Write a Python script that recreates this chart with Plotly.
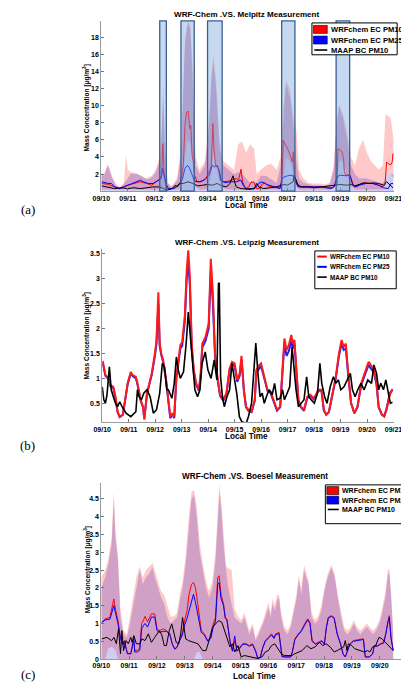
import plotly.graph_objects as go

# The page body keeps its default 8px margin, so the figure is laid out
# 8px smaller and all reference pixel positions are shifted by OFF.
OFF = 8
W, H = 409 - OFF, 684 - OFF

DAY_LABELS = ["09/10", "09/11", "09/12", "09/13", "09/14", "09/15",
              "09/16", "09/17", "09/18", "09/19", "09/20", "09/21"]
DAY_TICKS = list(range(12))

# ---------------- Panel (a): Melpitz ----------------
A_EVENTS = [(2.2, 2.45), (3.0, 3.5), (4.0, 4.55), (6.79, 7.29), (8.84, 9.35)]

# (time [days since 09/10 00:00], pink upper, pink lower, blue upper)
A_BAND = [
    (0, 2.2, 0.2, 2.0), (0.1, 2.0, 0.2, 1.8), (0.25, 3.2, 0.2, 3.0), (0.4, 1.8, 0.2, 1.6),
    (0.55, 0.8, 0.2, 0.7), (0.7, 0.5, 0.2, 0.4), (0.85, 1.0, 0.2, 0.8), (0.93, 4.2, 0.2, 1.2),
    (1.0, 2.5, 0.2, 1.6), (1.1, 2.2, 0.2, 2.0), (1.2, 2.0, 0.2, 2.2), (1.35, 2.0, 0.2, 2.0),
    (1.5, 1.8, 0.2, 1.8), (1.7, 1.5, 0.2, 1.4), (1.9, 1.8, 0.2, 1.6), (2.05, 2.5, 0.2, 2.2),
    (2.2, 4.0, 0.2, 3.5), (2.28, 8.0, 0.3, 7.0), (2.33, 12.5, 0.5, 11.0), (2.4, 6.0, 0.3, 5.0),
    (2.5, 1.0, 0.2, 0.9), (2.65, 0.6, 0.2, 0.5), (2.85, 1.5, 0.2, 1.2), (3.0, 5.0, 0.3, 4.0),
    (3.08, 12.0, 1.0, 10.0), (3.15, 18.0, 4.0, 17.0), (3.25, 19.9, 6.0, 19.5), (3.35, 19.5, 5.5, 19.0),
    (3.45, 14.0, 3.0, 12.0), (3.55, 4.0, 0.5, 3.0), (3.7, 2.5, 0.2, 2.0), (3.9, 3.5, 0.2, 3.0),
    (4.05, 8.0, 0.5, 7.0), (4.15, 14.0, 2.0, 13.0), (4.22, 16.0, 4.5, 15.0), (4.32, 13.0, 3.0, 12.0),
    (4.45, 6.0, 1.0, 5.0), (4.6, 3.5, 0.3, 3.0), (4.8, 3.0, 0.2, 2.5), (5.0, 2.5, 0.2, 2.0),
    (5.15, 5.5, 0.2, 2.2), (5.3, 5.8, 0.2, 2.0), (5.45, 4.5, 0.2, 1.5), (5.6, 5.5, 0.2, 1.0),
    (5.75, 5.0, 0.2, 1.2), (5.85, 2.0, 0.2, 1.0), (6.0, 2.5, 0.2, 1.8), (6.2, 3.0, 0.2, 1.8),
    (6.4, 3.2, 0.2, 1.4), (6.6, 2.5, 0.2, 1.0), (6.75, 4.0, 0.2, 3.0), (6.85, 10.0, 1.0, 8.0),
    (6.95, 13.0, 4.0, 12.5), (7.1, 12.0, 3.5, 11.0), (7.25, 8.5, 2.0, 7.0), (7.35, 7.0, 0.5, 3.5),
    (7.45, 2.5, 0.2, 1.5), (7.6, 1.5, 0.2, 1.0), (7.8, 1.0, 0.2, 0.8), (8.0, 0.9, 0.2, 0.7),
    (8.2, 0.9, 0.2, 0.7), (8.4, 0.8, 0.2, 0.6), (8.6, 1.0, 0.2, 0.8), (8.75, 3.0, 0.3, 2.5),
    (8.85, 8.0, 1.0, 7.5), (8.95, 10.2, 3.5, 10.0), (9.1, 9.0, 3.5, 8.5), (9.25, 7.0, 2.0, 6.0),
    (9.4, 4.0, 0.5, 3.0), (9.55, 3.0, 0.2, 2.0), (9.7, 5.0, 0.2, 1.5), (9.85, 6.0, 0.2, 1.5),
    (10.0, 4.5, 0.2, 1.5), (10.15, 3.5, 0.2, 1.3), (10.3, 3.0, 0.2, 1.2), (10.45, 2.5, 0.2, 1.0),
    (10.6, 3.0, 0.2, 1.0), (10.7, 9.0, 1.5, 1.5), (10.8, 8.8, 2.0, 2.0), (10.9, 8.5, 2.0, 2.0),
    (11.0, 6.0, 1.5, 2.0),
]

A_RED = [
    (0.02, 0.9), (0.26, 0.8), (0.5, 0.5), (0.69, 0.3), (0.99, 0.7), (1.23, 0.9), (1.47, 1.1),
    (1.71, 0.9), (1.89, 0.7), (2.07, 1.1), (2.19, 1.4), (2.27, 1.87), (2.32, 5.56), (2.36, 2.26),
    (2.41, 1.1), (2.45, 0.3), (2.61, 0.25), (2.79, 0.5), (2.97, 0.9), (3.09, 3.0), (3.15, 7.7),
    (3.21, 9.26), (3.27, 9.34), (3.33, 7.3), (3.37, 7.7), (3.42, 4.2), (3.47, 3.4), (3.51, 1.87),
    (3.61, 1.1), (3.75, 1.1), (3.94, 1.5), (4.06, 2.26), (4.14, 3.0), (4.2, 7.9), (4.24, 5.0),
    (4.3, 3.0), (4.36, 2.84), (4.42, 2.65), (4.48, 1.28), (4.6, 1.1), (4.78, 1.17), (4.93, 1.28),
    (5.08, 1.48), (5.17, 1.28), (5.26, 2.57), (5.32, 1.1), (5.44, 0.3), (5.55, 0.5), (5.65, 1.1),
    (5.75, 1.0), (5.85, 0.3), (5.95, 0.3), (6.05, 0.8), (6.15, 1.0), (6.3, 0.6), (6.5, 0.5),
    (6.7, 0.4), (6.77, 0.9), (6.81, 2.26), (6.85, 5.95), (6.95, 5.4), (7.01, 4.98), (7.07, 4.6),
    (7.13, 4.0), (7.19, 3.4), (7.23, 4.6), (7.26, 1.87), (7.31, 1.5), (7.37, 0.9), (7.49, 0.5),
    (7.8, 0.5), (8.1, 0.45), (8.4, 0.5), (8.7, 0.4), (8.88, 0.9), (8.91, 4.98), (8.99, 4.8),
    (9.06, 4.6), (9.12, 3.8), (9.15, 2.26), (9.21, 1.87), (9.3, 1.95), (9.36, 1.87), (9.42, 1.28),
    (9.5, 0.62), (9.6, 0.5), (9.78, 0.9), (9.9, 0.97), (10.08, 0.9), (10.26, 0.9), (10.44, 0.7),
    (10.56, 0.5), (10.68, 0.7), (10.74, 3.4), (10.8, 3.2), (10.9, 3.1), (10.95, 3.4), (10.98, 4.4),
]

A_BLUE = [
    (0.02, 1.1), (0.26, 0.9), (0.38, 0.9), (0.5, 0.5), (0.69, 0.3), (0.93, 0.62), (1.17, 0.9),
    (1.35, 1.1), (1.47, 1.28), (1.59, 1.1), (1.77, 0.9), (1.95, 0.9), (2.13, 1.28), (2.25, 1.48),
    (2.31, 2.65), (2.36, 1.87), (2.43, 0.9), (2.53, 0.3), (2.73, 0.3), (2.94, 0.78), (3.06, 1.48),
    (3.15, 2.65), (3.25, 3.03), (3.33, 2.65), (3.42, 1.87), (3.51, 1.17), (3.69, 1.1), (3.87, 1.28),
    (4.06, 1.87), (4.18, 3.03), (4.26, 2.84), (4.36, 3.03), (4.45, 2.26), (4.51, 1.28), (4.66, 1.0),
    (4.84, 1.1), (5.08, 1.1), (5.26, 1.28), (5.34, 0.7), (5.44, 0.25), (5.6, 0.2), (5.8, 0.4),
    (5.93, 0.9), (6.05, 1.1), (6.23, 0.78), (6.41, 0.62), (6.59, 0.5), (6.73, 0.3), (6.81, 1.48),
    (6.89, 1.67), (7.01, 1.8), (7.13, 1.87), (7.25, 1.75), (7.31, 1.1), (7.41, 0.5), (7.79, 0.5),
    (8.27, 0.5), (8.64, 0.3), (8.76, 0.5), (8.88, 1.67), (8.99, 1.87), (9.24, 1.8), (9.36, 1.87),
    (9.45, 0.9), (9.54, 0.5), (9.72, 0.7), (9.96, 0.9), (10.2, 0.9), (10.44, 0.7), (10.62, 0.4),
    (10.8, 0.3), (10.9, 0.9), (10.98, 0.9),
]

A_BLACK = [
    (0.02, 0.62), (0.26, 0.5), (0.5, 0.3), (0.75, 0.4), (0.99, 0.3), (1.23, 0.4), (1.47, 0.3),
    (1.71, 0.4), (1.95, 0.5), (2.19, 0.5), (2.37, 0.3), (2.49, 0.12), (2.67, 0.3), (2.79, 0.7),
    (2.85, 0.5), (2.94, 0.9), (3.09, 0.9), (3.27, 1.1), (3.45, 0.9), (3.63, 0.62), (3.81, 0.7),
    (3.99, 0.78), (4.18, 0.7), (4.36, 0.9), (4.54, 0.62), (4.72, 0.5), (4.84, 0.9), (4.96, 1.8),
    (5.02, 1.1), (5.08, 0.5), (5.26, 0.3), (5.44, 0.25), (5.6, 0.3), (5.75, 0.25), (5.85, 0.9),
    (5.93, 0.5), (6.11, 0.3), (6.35, 0.4), (6.59, 0.5), (6.77, 0.7), (6.89, 0.78), (7.01, 0.7),
    (7.13, 0.9), (7.22, 1.1), (7.26, 1.87), (7.31, 1.5), (7.41, 0.7), (7.55, 0.5), (7.79, 0.5),
    (8.03, 0.4), (8.27, 0.5), (8.52, 0.62), (8.76, 0.7), (8.99, 0.78), (9.24, 0.7), (9.42, 0.78),
    (9.54, 0.62), (9.72, 0.78), (9.9, 0.97), (10.08, 0.9), (10.26, 0.97), (10.44, 0.9),
    (10.62, 0.7), (10.74, 1.1), (10.86, 0.7), (10.98, 0.4),
]

# ---------------- Panel (b): Leipzig ----------------
# (time, PM10, PM25)
B_MODEL = [
    (0.02, 1.35, 1.3), (0.12, 1.07, 1.05), (0.24, 1.0, 0.98), (0.3, 0.87, 0.85), (0.42, 0.83, 0.8),
    (0.5, 0.63, 0.6), (0.58, 0.33, 0.32), (0.66, 0.23, 0.22), (0.78, 0.27, 0.27), (0.9, 0.73, 0.72),
    (0.96, 0.9, 0.88), (1.08, 1.13, 1.1), (1.14, 1.07, 1.05), (1.27, 1.03, 1.0), (1.33, 0.9, 0.88),
    (1.45, 0.57, 0.55), (1.54, 0.43, 0.42), (1.59, 0.17, 0.2), (1.69, 0.7, 0.68), (1.78, 0.9, 0.88),
    (1.87, 1.1, 1.07), (1.99, 1.5, 1.45), (2.05, 1.77, 1.7), (2.12, 2.73, 2.5), (2.17, 1.7, 1.65),
    (2.23, 1.5, 1.47), (2.3, 1.37, 1.33), (2.4, 1.03, 1.0), (2.5, 0.57, 0.55), (2.57, 0.23, 0.2),
    (2.65, 0.3, 0.28), (2.72, 0.23, 0.2), (2.8, 1.03, 1.0), (2.88, 1.4, 1.37), (2.95, 1.67, 1.6),
    (3.02, 1.73, 1.65), (3.12, 2.27, 2.15), (3.19, 3.17, 3.0), (3.25, 3.57, 3.35), (3.31, 3.03, 2.85),
    (3.38, 1.7, 1.6), (3.46, 1.17, 1.1), (3.55, 0.9, 0.87), (3.65, 0.77, 0.75), (3.72, 1.1, 1.07),
    (3.78, 1.7, 1.62), (3.9, 1.83, 1.75), (4.02, 2.1, 2.0), (4.1, 3.4, 3.15), (4.18, 2.7, 2.5),
    (4.26, 1.5, 1.45), (4.35, 1.03, 1.0), (4.45, 0.67, 0.65), (4.57, 0.57, 0.55), (4.69, 0.7, 0.68),
    (4.81, 1.2, 1.17), (4.9, 1.33, 1.28), (5.0, 1.3, 1.25), (5.1, 0.97, 0.93), (5.19, 1.1, 1.05),
    (5.26, 1.45, 1.38), (5.35, 0.77, 0.75), (5.43, 0.43, 0.42), (5.52, 0.37, 0.35), (5.64, 0.33, 0.32),
    (5.76, 0.57, 0.55), (5.82, 1.17, 1.12), (5.94, 1.27, 1.2), (6.0, 1.3, 1.25), (6.12, 1.03, 1.0),
    (6.24, 0.77, 0.75), (6.36, 0.73, 0.7), (6.48, 0.53, 0.52), (6.6, 0.37, 0.35), (6.72, 0.43, 0.42),
    (6.78, 1.03, 1.0), (6.88, 1.8, 1.7), (6.96, 1.57, 1.45), (7.05, 1.67, 1.55), (7.14, 1.87, 1.75),
    (7.2, 1.7, 1.6), (7.26, 1.77, 1.7), (7.32, 1.23, 1.2), (7.41, 0.57, 0.55), (7.5, 0.43, 0.42),
    (7.62, 0.37, 0.35), (7.74, 0.63, 0.6), (7.86, 0.67, 0.65), (7.98, 0.6, 0.58), (8.07, 0.67, 0.65),
    (8.16, 0.77, 0.75), (8.28, 0.77, 0.75), (8.37, 0.37, 0.35), (8.46, 0.27, 0.27), (8.56, 0.33, 0.32),
    (8.7, 0.7, 0.68), (8.82, 1.03, 1.0), (8.94, 1.5, 1.45), (9.04, 1.77, 1.7), (9.12, 1.63, 1.57),
    (9.2, 1.7, 1.6), (9.3, 1.03, 1.0), (9.4, 0.5, 0.5), (9.52, 0.3, 0.3), (9.64, 0.43, 0.42),
    (9.78, 0.9, 0.87), (9.96, 1.17, 1.12), (10.06, 1.33, 1.27), (10.14, 1.27, 1.2), (10.26, 1.17, 1.12),
    (10.36, 0.9, 0.87), (10.44, 0.43, 0.42), (10.56, 0.27, 0.27), (10.65, 0.23, 0.24), (10.74, 0.37, 0.4),
    (10.86, 0.67, 0.7), (10.96, 0.77, 0.78),
]

B_BLACK = [
    (0.0, 0.83), (0.06, 0.57), (0.12, 0.5), (0.18, 0.67), (0.27, 1.23), (0.34, 0.77), (0.42, 0.63),
    (0.5, 0.5), (0.58, 0.43), (0.66, 0.53), (0.75, 0.43), (0.9, 0.3), (1.08, 0.23), (1.27, 0.33),
    (1.33, 0.77), (1.39, 0.63), (1.48, 0.57), (1.57, 0.7), (1.69, 0.77), (1.81, 0.63), (1.93, 0.3),
    (2.05, 0.37), (2.17, 0.7), (2.27, 1.3), (2.35, 1.23), (2.44, 0.77), (2.5, 0.77), (2.63, 0.6),
    (2.72, 0.9), (2.8, 1.43), (2.87, 1.17), (2.95, 1.0), (3.07, 1.13), (3.17, 1.7), (3.25, 2.33),
    (3.33, 1.83), (3.43, 1.23), (3.5, 0.77), (3.6, 0.63), (3.69, 0.77), (3.77, 1.3), (3.89, 1.53),
    (3.99, 1.17), (4.11, 1.0), (4.23, 1.37), (4.33, 0.97), (4.39, 2.9), (4.42, 2.92), (4.47, 1.03),
    (4.54, 0.63), (4.61, 0.43), (4.71, 0.63), (4.81, 0.77), (4.9, 1.3), (4.98, 1.03), (5.08, 0.7),
    (5.18, 0.23), (5.27, 0.13), (5.44, 0.1), (5.52, 0.23), (5.64, 0.5), (5.7, 1.03), (5.8, 1.71),
    (5.88, 1.1), (5.96, 0.63), (6.04, 0.7), (6.12, 0.5), (6.2, 0.63), (6.3, 0.77), (6.42, 0.67),
    (6.51, 0.9), (6.6, 0.57), (6.72, 0.6), (6.81, 0.77), (6.88, 0.57), (6.96, 0.67), (7.08, 0.83),
    (7.17, 1.63), (7.24, 1.17), (7.32, 0.77), (7.41, 0.43), (7.5, 0.5), (7.62, 0.57), (7.72, 1.03),
    (7.8, 0.63), (7.89, 0.57), (8.01, 0.5), (8.13, 0.7), (8.22, 1.3), (8.29, 0.9), (8.4, 0.63),
    (8.49, 0.5), (8.61, 0.83), (8.73, 1.03), (8.82, 0.9), (8.92, 0.97), (9.01, 0.77), (9.13, 0.83),
    (9.25, 0.97), (9.37, 1.1), (9.45, 0.77), (9.55, 0.63), (9.65, 0.77), (9.77, 0.9), (9.89, 0.77),
    (10.03, 0.97), (10.17, 0.9), (10.26, 1.27), (10.36, 1.1), (10.44, 0.77), (10.52, 0.9),
    (10.62, 0.77), (10.71, 0.97), (10.8, 0.7), (10.88, 0.5), (10.96, 0.52),
]

# ---------------- Panel (c): Boesel ----------------
# (time, pink upper, pink lower, blue upper)
C_BAND = [
    (0, 2.3, 0.0, 2.0), (0.14, 2.5, 0.0, 2.3), (0.25, 2.8, 0.3, 2.65), (0.37, 3.4, 0.35, 3.2),
    (0.45, 4.7, 0.3, 4.5), (0.51, 3.6, 0.25, 3.4), (0.6, 2.9, 0.0, 2.75), (0.69, 1.4, 0.0, 1.17),
    (0.8, 0.8, 0.0, 0.7), (0.92, 0.7, 0.0, 0.6), (1.03, 1.2, 0.0, 1.0), (1.15, 1.8, 0.0, 1.55),
    (1.26, 2.3, 0.0, 2.0), (1.38, 2.6, 0.0, 2.5), (1.49, 2.3, 0.0, 2.1), (1.61, 2.5, 0.0, 2.3),
    (1.72, 2.6, 0.0, 2.4), (1.84, 2.7, 0.0, 2.57), (1.92, 2.5, 0.0, 2.3), (2.03, 2.2, 0.0, 2.0),
    (2.15, 1.9, 0.0, 1.73), (2.26, 1.8, 0.0, 1.55), (2.38, 1.5, 0.0, 1.17), (2.49, 1.2, 0.0, 1.0),
    (2.61, 1.2, 0.0, 1.08), (2.72, 1.3, 0.0, 1.17), (2.84, 1.9, 0.0, 1.73), (2.92, 2.2, 0.0, 2.0),
    (3.03, 2.9, 0.0, 2.65), (3.15, 4.1, 0.0, 3.78), (3.24, 4.7, 0.0, 4.5), (3.33, 4.75, 0.0, 4.6),
    (3.43, 4.3, 0.2, 3.97), (3.53, 3.3, 0.2, 3.0), (3.64, 2.7, 0.0, 2.5), (3.76, 2.2, 0.0, 2.0),
    (3.87, 1.9, 0.0, 1.73), (3.99, 2.2, 0.0, 2.0), (4.1, 3.0, 0.0, 2.75), (4.18, 4.2, 0.0, 3.97),
    (4.24, 4.9, 0.0, 4.7), (4.31, 4.4, 0.0, 4.15), (4.39, 3.5, 0.0, 3.2), (4.48, 2.6, 0.0, 2.5),
    (4.56, 2.55, 0.0, 2.0), (4.68, 2.5, 0.0, 1.55), (4.79, 1.4, 0.0, 1.17), (4.91, 1.2, 0.0, 1.08),
    (5.02, 1.1, 0.0, 1.0), (5.14, 1.3, 0.0, 1.17), (5.31, 0.8, 0.0, 0.7), (5.43, 1.0, 0.0, 0.9),
    (5.54, 0.6, 0.0, 0.52), (5.66, 0.8, 0.0, 0.7), (5.77, 1.0, 0.0, 0.9), (5.89, 1.3, 0.0, 1.17),
    (6.0, 1.6, 0.0, 1.45), (6.08, 1.3, 0.0, 1.17), (6.15, 1.7, 0.0, 1.55), (6.23, 1.5, 0.0, 1.36),
    (6.31, 1.8, 0.0, 1.64), (6.38, 1.8, 0.0, 1.73), (6.46, 1.3, 0.0, 1.17), (6.57, 0.9, 0.0, 0.8),
    (6.69, 0.8, 0.0, 0.7), (6.8, 1.0, 0.0, 0.9), (6.92, 1.5, 0.0, 1.36), (7.0, 1.8, 0.0, 1.64),
    (7.09, 2.35, 0.0, 2.2), (7.18, 2.0, 0.0, 1.82), (7.28, 2.65, 0.0, 2.48), (7.36, 2.4, 0.0, 2.3),
    (7.44, 2.2, 0.0, 2.1), (7.55, 1.3, 0.0, 1.17), (7.67, 1.1, 0.0, 1.0), (7.78, 1.2, 0.0, 1.08),
    (7.9, 1.5, 0.0, 1.36), (8.01, 2.0, 0.0, 1.92), (8.13, 2.4, 0.0, 2.3), (8.26, 2.65, 0.0, 2.57),
    (8.38, 2.4, 0.0, 2.3), (8.49, 1.8, 0.0, 1.73), (8.61, 1.3, 0.0, 1.17), (8.72, 0.9, 0.0, 0.8),
    (8.84, 0.8, 0.0, 0.7), (8.95, 0.9, 0.0, 0.8), (9.07, 1.1, 0.0, 1.0), (9.18, 0.9, 0.0, 0.8),
    (9.3, 0.8, 0.0, 0.7), (9.41, 0.9, 0.0, 0.8), (9.53, 1.0, 0.0, 0.9), (9.64, 0.9, 0.0, 0.8),
    (9.76, 0.8, 0.0, 0.7), (9.87, 0.9, 0.0, 0.8), (9.99, 1.1, 0.0, 1.0), (10.1, 1.5, 0.0, 1.36),
    (10.2, 1.9, 0.0, 1.73), (10.29, 2.5, 0.0, 2.38), (10.34, 2.55, 0.0, 2.43), (10.4, 1.9, 0.0, 1.82),
    (10.48, 0.8, 0.0, 0.7),
]

# (time, PM10, PM25)
C_MODEL = [
    (0.02, 1.03, 1.03), (0.14, 1.13, 1.1), (0.31, 1.17, 1.12), (0.37, 1.4, 1.3), (0.45, 1.69, 1.5),
    (0.51, 1.4, 1.3), (0.6, 1.08, 1.0), (0.69, 0.61, 0.58), (0.77, 0.43, 0.4), (0.83, 0.52, 0.5),
    (0.89, 0.34, 0.3), (0.94, 0.15, 0.15), (1.06, 0.15, 0.15), (1.12, 0.4, 0.45), (1.17, 0.5, 0.6),
    (1.2, 0.25, 0.2), (1.3, 0.25, 0.2), (1.38, 0.3, 0.25), (1.45, 1.0, 0.85), (1.52, 1.1, 0.95),
    (1.57, 1.2, 1.0), (1.66, 1.05, 0.9), (1.72, 1.15, 1.05), (1.8, 1.27, 1.18), (1.92, 1.27, 1.18),
    (2.0, 0.85, 0.8), (2.09, 0.8, 0.75), (2.23, 0.85, 0.78), (2.34, 0.8, 0.78), (2.46, 0.71, 0.7),
    (2.55, 0.43, 0.42), (2.64, 0.29, 0.28), (2.72, 0.34, 0.33), (2.8, 0.52, 0.5), (2.9, 0.71, 0.65),
    (2.99, 1.08, 0.95), (3.08, 1.36, 1.15), (3.15, 1.82, 1.35), (3.24, 2.1, 1.6), (3.31, 2.15, 1.82),
    (3.38, 2.01, 1.6), (3.45, 1.64, 1.3), (3.52, 1.17, 1.0), (3.59, 0.8, 0.75), (3.7, 0.71, 0.68),
    (3.82, 0.52, 0.5), (3.93, 0.61, 0.58), (4.02, 0.99, 0.9), (4.1, 1.17, 1.05), (4.18, 2.29, 2.1),
    (4.23, 2.34, 2.15), (4.3, 1.82, 1.7), (4.39, 1.55, 1.5), (4.45, 1.17, 1.15), (4.51, 1.13, 1.1),
    (4.62, 0.52, 0.5), (4.71, 0.24, 0.22), (4.79, 0.52, 0.65), (4.87, 0.24, 0.22), (4.97, 0.34, 0.3),
    (5.08, 0.43, 0.42), (5.2, 0.43, 0.42), (5.31, 0.38, 0.36), (5.43, 0.43, 0.41), (5.54, 0.24, 0.22),
    (5.62, 0.01, 0.01), (5.71, 0.06, 0.05), (5.8, 0.34, 0.32), (5.89, 0.52, 0.5), (6.0, 0.61, 0.58),
    (6.11, 0.71, 0.68), (6.2, 0.61, 0.58), (6.26, 0.71, 0.68), (6.38, 0.75, 0.72), (6.49, 0.07, 0.07),
    (6.63, 0.06, 0.06), (6.8, 0.06, 0.06), (6.86, 0.2, 0.2), (6.95, 0.57, 0.55), (7.07, 0.71, 0.68),
    (7.18, 0.8, 0.78), (7.3, 0.99, 0.95), (7.41, 1.13, 1.1), (7.49, 1.03, 1.0), (7.57, 0.52, 0.5),
    (7.69, 0.43, 0.42), (7.8, 0.47, 0.46), (7.92, 0.52, 0.5), (8.01, 0.43, 0.42), (8.08, 0.89, 0.88),
    (8.15, 1.17, 1.15), (8.26, 1.22, 1.2), (8.36, 1.17, 1.15), (8.47, 0.71, 0.7), (8.59, 0.43, 0.42),
    (8.68, 0.15, 0.14), (8.76, 0.06, 0.06), (8.84, 0.24, 0.22), (8.93, 0.43, 0.42), (9.05, 0.52, 0.5),
    (9.18, 0.54, 0.52), (9.3, 0.57, 0.55), (9.41, 0.57, 0.55), (9.48, 0.06, 0.06), (9.62, 0.06, 0.06),
    (9.74, 0.15, 0.14), (9.8, 0.38, 0.36), (9.91, 0.38, 0.36), (10.02, 0.43, 0.42), (10.14, 0.47, 0.45),
    (10.22, 0.75, 0.72), (10.29, 1.08, 1.05), (10.34, 1.22, 1.18), (10.4, 0.61, 0.6), (10.48, 0.24, 0.24),
]

C_BLACK = [
    (0.02, 0.57), (0.2, 0.61), (0.37, 0.52), (0.46, 0.61), (0.54, 0.43), (0.62, 0.85), (0.69, 0.15),
    (0.74, 0.8), (0.8, 0.24), (0.89, 0.52), (0.97, 0.43), (1.06, 0.61), (1.11, 0.47), (1.17, 0.66),
    (1.26, 0.43), (1.38, 0.43), (1.46, 0.57), (1.57, 0.52), (1.69, 0.71), (1.8, 0.47), (1.92, 0.61),
    (2.03, 0.75), (2.09, 0.8), (2.18, 0.66), (2.26, 0.38), (2.34, 0.38), (2.44, 0.8), (2.53, 0.99),
    (2.61, 0.75), (2.69, 0.47), (2.78, 0.43), (2.85, 0.71), (2.92, 1.17), (2.99, 0.8), (3.03, 0.57),
    (3.13, 0.52), (3.3, 0.47), (3.47, 0.43), (3.64, 0.24), (3.76, 0.24), (3.87, 0.52), (3.99, 0.89),
    (4.1, 0.99), (4.22, 1.08), (4.33, 1.03), (4.43, 0.8), (4.53, 0.61), (4.62, 0.34), (4.71, 0.43),
    (4.79, 0.2), (4.91, 0.38), (5.02, 0.06), (5.14, 0.1), (5.37, 0.06), (5.6, 0.02), (5.77, 0.06),
    (5.89, 0.2), (6.0, 0.24), (6.11, 0.38), (6.23, 0.43), (6.34, 0.29), (6.46, 0.15), (6.57, 0.1),
    (6.72, 0.1), (6.84, 0.1), (6.95, 0.15), (7.07, 0.2), (7.21, 0.24), (7.38, 0.38), (7.53, 0.29),
    (7.67, 0.34), (7.84, 0.47), (7.95, 0.38), (8.07, 0.43), (8.22, 0.34), (8.36, 0.2), (8.47, 0.24),
    (8.59, 0.29), (8.7, 0.34), (8.76, 0.52), (8.82, 0.24), (8.87, 0.43), (8.99, 0.38), (9.1, 0.29),
    (9.28, 0.24), (9.45, 0.2), (9.56, 0.24), (9.64, 0.2), (9.74, 0.34), (9.85, 0.38), (9.97, 0.61),
    (10.08, 0.57), (10.2, 0.47), (10.31, 0.38), (10.43, 0.29), (10.48, 0.24),
]

# ---------------- figure ----------------
FONT = "Liberation Sans"


def X(p):
    return (p - OFF) / W


def Y(p):
    return 1 - (p - OFF) / H


def col(rows, i):
    return [r[i] for r in rows]


fig = go.Figure()


def add_band(rows, xa, ya):
    t = col(rows, 0)
    hi = col(rows, 1)
    lo = col(rows, 2)
    bhi = col(rows, 3)
    fig.add_trace(go.Scatter(x=t + t[::-1], y=hi + lo[::-1], fill="toself",
                             fillcolor="rgba(255,0,0,0.21)", line=dict(width=0),
                             mode="lines", showlegend=False, hoverinfo="skip",
                             xaxis=xa, yaxis=ya))
    fig.add_trace(go.Scatter(x=t, y=bhi, fill="tozeroy",
                             fillcolor="rgba(20,0,190,0.2)", line=dict(width=0),
                             mode="lines", showlegend=False, hoverinfo="skip",
                             xaxis=xa, yaxis=ya))


def add_line(t, v, color, width, xa, ya):
    fig.add_trace(go.Scatter(x=t, y=v, mode="lines", line=dict(color=color, width=width),
                             showlegend=False, hoverinfo="skip", xaxis=xa, yaxis=ya))


# panel a
add_band(A_BAND, "x", "y")
add_line(col(A_RED, 0), col(A_RED, 1), "#ff0000", 1, "x", "y")
add_line(col(A_BLUE, 0), col(A_BLUE, 1), "#0000ff", 1, "x", "y")
add_line(col(A_BLACK, 0), col(A_BLACK, 1), "#000000", 1, "x", "y")

# panel b
add_line(col(B_MODEL, 0), col(B_MODEL, 2), "#2020ff", 2, "x2", "y2")
add_line(col(B_MODEL, 0), col(B_MODEL, 1), "#ff1a1a", 2, "x2", "y2")
add_line(col(B_BLACK, 0), col(B_BLACK, 1), "#000000", 1.6, "x2", "y2")

# panel c
add_band(C_BAND, "x3", "y3")
add_line(col(C_MODEL, 0), col(C_MODEL, 1), "#ff0000", 1, "x3", "y3")
add_line(col(C_MODEL, 0), col(C_MODEL, 2), "#0000ff", 1, "x3", "y3")
add_line(col(C_BLACK, 0), col(C_BLACK, 1), "#000000", 1, "x3", "y3")

tickfont = dict(family=FONT, size=7, color="black", weight="bold")
axis_common = dict(showgrid=False, zeroline=False, showline=True, linecolor="#9a9a9a",
                   linewidth=1, ticks="inside", ticklen=3, tickcolor="#777",
                   tickfont=tickfont, mirror=False, ticklabeloverflow="allow")

fig.update_layout(
    width=W, height=H, margin=dict(l=0, r=0, t=0, b=0),
    paper_bgcolor="white", plot_bgcolor="white", showlegend=False,
    xaxis=dict(domain=[X(96), X(402)], anchor="y", range=[0, 11.03],
               tickvals=DAY_TICKS, ticktext=DAY_LABELS, **axis_common),
    yaxis=dict(domain=[Y(192), Y(21)], anchor="x", range=[0, 19.9],
               tickvals=[2, 4, 6, 8, 10, 12, 14, 16, 18], **axis_common),
    xaxis2=dict(domain=[X(97), X(402)], anchor="y2", range=[0, 11.03],
                tickvals=DAY_TICKS, ticktext=DAY_LABELS, **axis_common),
    yaxis2=dict(domain=[Y(424), Y(250)], anchor="x2", range=[0.12, 3.6],
                tickvals=[0.5, 1, 1.5, 2, 2.5, 3, 3.5],
                ticktext=["0.5", "1", "1.5", "2", "2.5", "3", "3.5"], **axis_common),
    xaxis3=dict(domain=[X(96), 1.0], anchor="y3", range=[0, 10.76],
                tickvals=DAY_TICKS, ticktext=DAY_LABELS, **axis_common),
    yaxis3=dict(domain=[Y(662), Y(485)], anchor="x3", range=[0, 4.95],
                tickvals=[0, 0.5, 1, 1.5, 2, 2.5, 3, 3.5, 4, 4.5],
                ticktext=["0", "0.5", "1", "1.5", "2", "2.5", "3", "3.5", "4", "4.5"],
                **axis_common),
)

shapes = []
for (s, e) in A_EVENTS:
    shapes.append(dict(type="rect", xref="x", yref="y domain", x0=s, x1=e, y0=0, y1=1,
                       fillcolor="rgba(120,165,220,0.42)", line=dict(color="#3a5f8f", width=1.3),
                       layer="above"))

annotations = []


def txt(text, x, y, size, bold=True, family=FONT, angle=0, xanchor="center"):
    annotations.append(dict(text=text, x=X(x), y=Y(y), xref="paper", yref="paper",
                            showarrow=False, textangle=angle, xanchor=xanchor, yanchor="middle",
                            font=dict(family=family, size=size, color="black",
                                      weight="bold" if bold else "normal")))


def legend(box, rows, size, patch):
    x0, y0, x1, y1 = box
    shapes.append(dict(type="rect", xref="paper", yref="paper", x0=X(x0), x1=X(x1),
                       y0=Y(y1), y1=Y(y0), fillcolor="white", line=dict(color="black", width=1),
                       layer="above"))
    for (label, color, yc, is_patch) in rows:
        sx0, sx1 = x0 + 1.5, x0 + 1.5 + patch
        if is_patch:
            shapes.append(dict(type="rect", xref="paper", yref="paper", x0=X(sx0), x1=X(sx1),
                               y0=Y(yc + 4), y1=Y(yc - 4), fillcolor=color,
                               line=dict(color="black", width=0.6), layer="above"))
        else:
            shapes.append(dict(type="line", xref="paper", yref="paper", x0=X(sx0 + 1), x1=X(sx1),
                               y0=Y(yc), y1=Y(yc), line=dict(color=color, width=1.6 if color == "black" else 2),
                               layer="above"))
        txt(label, sx1 + 1.5, yc, size, xanchor="left")


legend((316, 23, 405, 55), [("WRFchem EC PM10", "#ff0000", 29.5, True),
                            ("WRFchem EC PM25", "#0000ff", 40.2, True),
                            ("MAAP BC PM10", "black", 50.2, False)], 7.6, 14.5)
legend((319, 252, 404, 290), [("WRFchem EC PM10", "#ff0000", 257.7, False),
                              ("WRFchem EC PM25", "#0000ff", 268.0, False),
                              ("MAAP BC PM10", "black", 278.3, False)], 6.3, 11)
legend((330, 487, 420, 526), [("WRFchem EC PM10", "#ff0000", 492.7, True),
                              ("WRFchem EC PM25", "#0000ff", 502.3, True),
                              ("MAAP BC PM10", "black", 511.7, False)], 7.0, 12.5)

# titles
txt("WRF-Chem .VS. Melpitz Measurement", 248, 15, 8.1)
txt("WRF-Chem .VS. Leipzig Measurement", 248.5, 244, 8.0)
txt("WRF-Chem .VS. Boesel Measurement", 256.8, 479, 8.2)
# x-axis titles
txt("Local Time", 248, 206, 8.2)
txt("Local Time", 248, 438, 8.2)
txt("Local Time", 256.5, 679.5, 8.2)
# y-axis titles
ylab = "Mass Concentration [µg/m<sup>3</sup>]"
txt(ylab, 81, 108, 6.6, angle=-90)
txt(ylab, 81, 337, 6.6, angle=-90)
txt(ylab, 82, 572, 6.6, angle=-90)
# panel letters
txt("(a)", 19, 210, 13, bold=False, family="Liberation Serif")
txt("(b)", 19, 447, 13, bold=False, family="Liberation Serif")
txt("(c)", 19, 677, 13, bold=False, family="Liberation Serif")

fig.update_layout(shapes=shapes, annotations=annotations)

fig.write_html("out.html")
